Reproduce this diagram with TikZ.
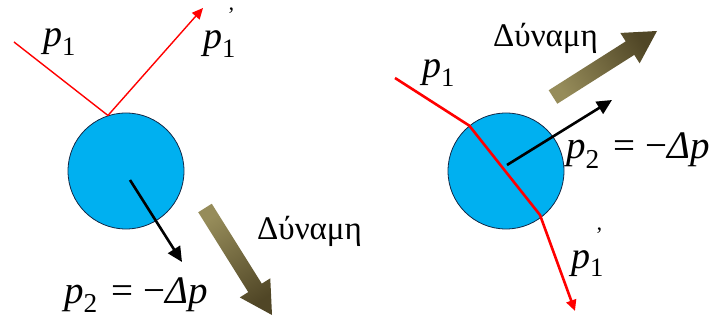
\documentclass[tikz,border=0pt]{standalone}
\usepackage{fontspec}
\IfFontExistsTF{LiberationSerif-Regular.ttf}
  {\setmainfont{LiberationSerif}[Extension=.ttf,UprightFont=*-Regular,ItalicFont=*-Italic,BoldFont=*-Bold,BoldItalicFont=*-BoldItalic]}
  {\setmainfont{Liberation Serif}}
\usetikzlibrary{arrows.meta,calc}
\definecolor{ballblue}{RGB}{0,176,240}
\definecolor{ballrim}{RGB}{20,40,70}
\definecolor{olivelight}{RGB}{150,140,90}
\definecolor{olivedark}{RGB}{80,70,38}
\newcommand\plabel[1]{{\itshape p}\textsubscript{\upshape #1}}
\newcommand\pprimelabel{{\itshape p}\textsubscript{\upshape 1}\llap{\raisebox{26pt}{\fontsize{22}{22}\selectfont\upshape\symbol{"27}}\hspace{1pt}}}
\newcommand\eqlabel{{\itshape p}\textsubscript{\upshape 2}\hspace{0.35em}=\hspace{0.25em}−{\itshape Δp}}
\newcommand\forcearrow[4]{% name, tail, tip, shading angle
  \coordinate (#1headbase) at ($(#3)!32pt!(#2)$);
  \shade[top color=olivelight, bottom color=olivedark, shading angle=#4]
    ($(#2)!8pt!90:(#3)$) -- ($(#1headbase)!8pt!90:(#3)$) -- ($(#1headbase)!18pt!90:(#3)$)
    -- (#3) -- ($(#1headbase)!18pt!-90:(#3)$) -- ($(#1headbase)!8pt!-90:(#3)$)
    -- ($(#2)!8pt!-90:(#3)$) -- cycle;
}
\begin{document}
\begin{tikzpicture}[x=1pt,y=-1pt,
  ball/.style={circle, draw=ballrim, line width=0.8pt, fill=ballblue, minimum size=116pt, inner sep=0pt},
  rayA/.style={red, line width=1.4pt, line join=miter, -{Triangle[length=11pt,width=10pt]}},
  rayB/.style={red, line width=2.6pt, line join=miter, -{Triangle[length=11pt,width=10pt]}},
  mom/.style={black, line width=2.6pt, -{Triangle[length=15pt,width=14pt]}},
  lab/.style={anchor=base west, inner sep=0pt, font=\fontsize{38}{38}\selectfont},
  eqlab/.style={anchor=base west, inner sep=0pt, font=\fontsize{39}{39}\selectfont},
  forcelab/.style={anchor=base west, inner sep=0pt, font=\fontsize{33}{33}\selectfont}]
\useasboundingbox (0,0) rectangle (711,320);
% ---------- left panel ----------
\node[ball] (lball) at (126,171) {};
\coordinate (lin) at (14,42);
\coordinate (lout) at (203,8);
\draw[rayA] (lin) -- (lball.108) -- (lout);
\coordinate (lmomS) at (130,180);
\coordinate (lmomE) at (182,262);
\draw[mom] (lmomS) -- (lmomE);
\coordinate (lftail) at (205,208);
\coordinate (lftip) at (272,315);
\forcearrow{lf}{lftail}{lftip}{32}
\node[lab] (lp1) at (43,47) {\plabel{1}};
\node[lab] (lp1p) at (203,49) {\pprimelabel};
\node[eqlab] (leq) at (64,303) {\eqlabel};
\node[forcelab] (lforce) at (257,240) {Δύναμη};
% ---------- right panel ----------
\node[ball] (rball) at (506,171) {};
\coordinate (rin) at (395,78);
\coordinate (rbend) at (540,215);
\coordinate (rout) at (575,311);
\draw[rayB] (rin) -- (rball.129) -- (rbend) -- (rout);
\coordinate (rmomS) at (507,165);
\coordinate (rmomE) at (612,100);
\draw[mom] (rmomS) -- (rmomE);
\coordinate (rftail) at (553,97);
\coordinate (rftip) at (657,31);
\forcearrow{rf}{rftail}{rftip}{122.4}
\node[lab] (rp1) at (422,78) {\plabel{1}};
\node[lab] (rp1p) at (571,268) {\pprimelabel};
\node[eqlab] (req) at (566,159) {\eqlabel};
\node[forcelab] (rforce) at (493,47) {Δύναμη};
\end{tikzpicture}
\end{document}
